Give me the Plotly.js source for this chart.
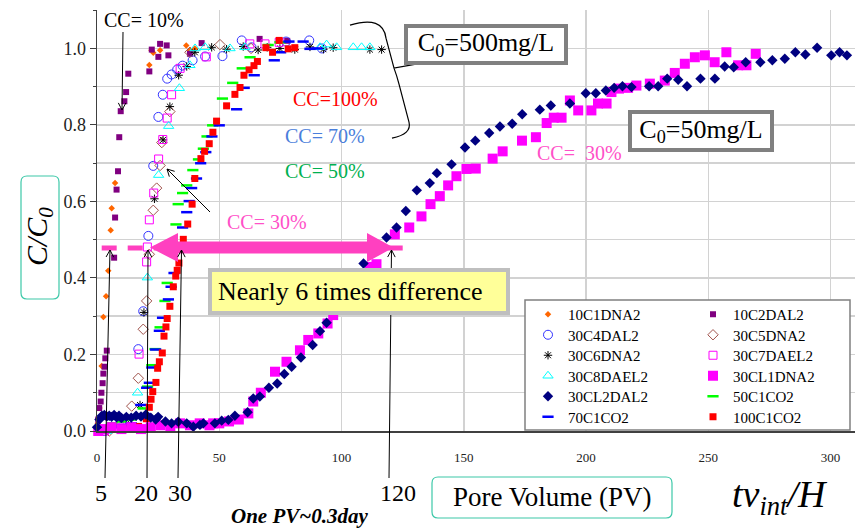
<!DOCTYPE html>
<html><head><meta charset="utf-8">
<script src="https://cdn.plot.ly/plotly-3.0.1.min.js"></script>
<style>html,body{margin:0;padding:0;background:#fff}#chart{width:856px;height:528px}</style>
</head><body><div id="chart"></div>
<script>
// ---------- data (Pore Volume, C/C0) ----------
const s10C1DNA2 = [[0.3,0.02],[1.0,0.06],[1.9,0.17],[2.6,0.298],[3.7,0.352],[4.6,0.419],[5.6,0.525],[6.0,0.582],[7.4,0.648],[21.4,0.957],[22.3,0.995],[23.0,0.989],[25.8,0.995],[36.5,1.008],[38.0,0.995],[40.0,1.0]];
const s10C2DAL2 = [[0.5,0.03],[0.9,0.06],[1.5,0.077],[1.8,0.10],[2.3,0.125],[2.6,0.15],[3.1,0.168],[3.4,0.19],[4.0,0.21],[7.0,0.453],[7.4,0.558],[8.0,0.631],[8.6,0.679],[9.1,0.768],[9.7,0.836],[11.2,0.862],[11.9,0.886],[12.8,0.934],[21.4,0.94],[22.4,0.997],[25.1,0.978],[25.8,1.012],[28.5,1.008],[29.2,0.982],[38.0,0.986],[42.8,1.014],[66.5,1.025],[77.8,1.02]];
const s30C4DAL2 = [[3,0.0],[10,0.01],[16.9,0.214],[18.9,0.313],[21.0,0.51],[23.0,0.693],[25.1,0.821],[26.9,0.879],[28.7,0.921],[30.5,0.932],[32.8,0.945],[35.0,0.955],[39.1,0.969],[44.2,0.979],[51.3,0.98],[59.2,1.021],[63.2,1.003],[77.3,1.018],[86.8,1.021],[92.0,1.0]];
const s30C5DNA2 = [[5,0.0],[10,0.02],[14.2,0.065],[16.9,0.138],[18.9,0.266],[20.3,0.34],[21.4,0.462],[23.0,0.577],[24.4,0.635],[25.8,0.694],[26.5,0.754],[29.8,0.835],[38,0.99],[50.3,1.01],[63,1.0]];
const s30C6DNA2 = [[5,0.01],[12,0.03],[17.6,0.068],[19.2,0.31],[23.5,0.607],[27.0,0.761],[29.8,0.848],[33.4,0.93],[36.7,0.953],[40,0.99],[46.9,1.003],[53.0,0.998],[59.8,1.005],[65.9,0.996],[69.6,1.003],[74.8,1.0],[80.9,0.997],[87.1,1.004],[92.6,0.998],[96.6,1.002],[111.6,0.997],[116.4,0.997]];
const s30C7DAEL2 = [[3,0.0],[10,0.01],[17.2,0.201],[20.3,0.442],[20.6,0.481],[21.4,0.552],[23.2,0.622],[25.2,0.711],[26.9,0.762],[28.7,0.818],[30.5,0.879],[34.0,0.948],[44.7,0.978],[62.5,1.012],[68.7,1.012],[74.5,1.016]];
const s30C8DAEL2 = [[4,0.0],[9,-0.002],[12,0.005],[16.6,0.10],[20.6,0.401],[25.2,0.669],[29.3,0.797],[33.7,0.896],[38,0.956],[40.1,1.0],[44.2,1.003],[54.4,1.0],[60.5,1.003],[91.2,1.003],[93.9,1.01],[98,1.003],[104.8,1.003],[108.2,1.003],[111.6,1.003]];
const s30CL1DNA2 = [[0.5,0],[3,0.005],[6,0.01],[10,0.005],[14,0.01],[18,0.005],[22,0.01],[26,0.015],[30,0.01],[34,0.02],[38,0.015],[42,0.02],[46,0.015],[47.5,0.02],[50,0.02],[54,0.025],[58,0.03],[61.9,0.046],[63.9,0.077],[67,0.1],[72.8,0.155],[77.5,0.181],[83,0.211],[86.4,0.238],[90.5,0.255],[94.3,0.281],[96.6,0.303],[111.6,0.429],[114.3,0.436],[121.8,0.514],[127.7,0.532],[132.7,0.561],[136.4,0.593],[140.2,0.614],[143.6,0.642],[147,0.666],[151.1,0.685],[154.9,0.686],[161.8,0.712],[165.9,0.731],[173.8,0.759],[179.5,0.768],[183.9,0.805],[186.8,0.819],[190,0.819],[193.4,0.864],[196.8,0.838],[202.2,0.838],[204.9,0.856],[208.4,0.856],[210.4,0.886],[213.5,0.895],[217.2,0.897],[220.6,0.903],[226.1,0.908],[232.2,0.916],[236.3,0.936],[240.4,0.96],[244.5,0.977],[248.6,0.982],[252.6,0.964],[257.4,0.99],[262.2,0.956],[265.6,0.956],[269.4,0.986]];
const s30CL2DAL2 = [[0,0.01],[1,0.03],[2,0.04],[3,0.042],[4,0.038],[5,0.04],[6,0.037],[7,0.042],[8,0.036],[9,0.04],[10,0.034],[12,0.037],[14,0.035],[16,0.04],[18,0.038],[20,0.043],[22,0.035],[24,0.03],[25,0.037],[28,0.025],[30.5,0.02],[33.2,0.024],[36.7,0.02],[39.4,0.011],[42.1,0.016],[43.5,0.02],[48.2,0.02],[51,0.027],[53.7,0.029],[56.4,0.04],[61.6,0.049],[63.9,0.085],[66.6,0.09],[70.3,0.113],[73.7,0.124],[76.6,0.149],[79.6,0.168],[83.4,0.192],[88.2,0.225],[91.2,0.261],[93.9,0.283],[109.0,0.438],[118.4,0.506],[122.5,0.532],[126.3,0.575],[130.8,0.629],[136.1,0.648],[139,0.674],[145,0.697],[150.5,0.741],[154.7,0.759],[160.4,0.779],[164.8,0.796],[169.8,0.803],[173.9,0.828],[181.1,0.84],[185.6,0.851],[193.4,0.856],[199.9,0.883],[204,0.883],[208.1,0.89],[211.5,0.897],[214.9,0.901],[218.6,0.899],[225.8,0.901],[229.5,0.901],[233.2,0.921],[237.7,0.918],[241.3,0.901],[246.8,0.921],[252.7,0.921],[256.7,0.953],[260.4,0.951],[265.3,0.964],[271.3,0.964],[276.2,0.969],[281.3,0.973],[285.6,0.99],[289.7,0.984],[294.5,1.002],[300.3,0.982],[303.7,0.99],[306.7,0.982]];
const s50C1CO2 = [[2,0.005],[6,0.02],[10,0.025],[14,0.03],[17,0.04],[18.9,0.059],[20.7,0.116],[22.4,0.172],[23.7,0.214],[25.8,0.271],[27.8,0.34],[28.7,0.387],[32.3,0.54],[33.2,0.593],[35,0.622],[36.7,0.642],[39.2,0.682],[41.5,0.71],[43.5,0.738],[45,0.77],[47.3,0.799],[51.3,0.869],[55.5,0.91],[59.4,0.948],[62.6,0.977],[70,1.009],[74.8,1.016]];
const s70C1CO2 = [[2,0.0],[6,0.01],[10,0.015],[14,0.02],[17.9,0.068],[20.3,0.113],[21.4,0.126],[22.4,0.166],[24,0.213],[25.5,0.262],[26.8,0.296],[29.2,0.344],[30.3,0.377],[31.5,0.413],[35,0.532],[36.7,0.572],[37.7,0.601],[38.7,0.635],[40.7,0.66],[42.4,0.7],[44.5,0.729],[47,0.77],[50,0.799],[57.1,0.841],[60.2,0.897],[64.3,0.93],[72.5,0.969],[75.1,0.99],[78.5,1.018],[84.3,1.018],[87.1,0.999],[90,1.0]];
const s100C1CO2 = [[0,-0.002],[2.6,0.004],[6,0.011],[10.1,0.005],[13.5,0.005],[17,0.012],[20.2,0.032],[21.4,0.062],[22.1,0.083],[22.8,0.103],[24.1,0.127],[24.8,0.164],[25.5,0.181],[26.7,0.204],[27.4,0.248],[28.2,0.272],[28.7,0.294],[29.8,0.326],[31.2,0.377],[32.2,0.405],[32.8,0.42],[33.5,0.439],[35.3,0.501],[37.1,0.541],[38.9,0.593],[40,0.66],[42.5,0.712],[44,0.731],[45.9,0.751],[47.4,0.781],[48.9,0.81],[53,0.85],[56.4,0.88],[58.5,0.898],[60.1,0.93],[62.2,0.944],[64.2,0.955],[65.6,0.966],[69.1,1.002],[71.8,0.99],[74.5,1.021],[78.2,0.999],[80.9,1.002]];

const xTickVals = [0,50,100,150,200,250,300];
const yTickVals = [0,0.2,0.4,0.6,0.8,1.0];
const yMinorVals = [0.1,0.3,0.5,0.7,0.9,1.1];
const markedPV = ['5','20','30','120'];

// ---------- geometry helpers (pixel -> coordinates) ----------
const W=856,H=528,L=97,R=1,T=10,B=97;
const PW=W-L-R, PH=H-T-B, XMAX=310, YMAX=1.1;
const px2x = px => (px-L)/PW*XMAX;
const py2y = py => (T+PH-py)/PH*YMAX;
const pX = px => (px-L)/PW;
const pY = py => (T+PH-py)/PH;
const SERIF = 'Liberation Serif, Times New Roman, serif';

// legend slots: [column text x (px), row centre y (px)]
const COLX = [528, 693];
const ROWY = [315, 335.5, 356, 376.5, 397, 417.5];
let legendCount = 0;
const legends = {};
function mk(name, pts, symbol, color, size, lw, col, row){
  legendCount++;
  const key = legendCount === 1 ? 'legend' : 'legend' + legendCount;
  legends[key] = {x:pX(COLX[col]), y:pY(ROWY[row]-17), xanchor:'left', yanchor:'top', bgcolor:'rgba(0,0,0,0)',
    borderwidth:0, font:{family:SERIF, size:15, color:'#000'}, itemwidth:30};
  return {type:'scatter', mode:'markers', name:name, x:pts.map(p=>p[0]), y:pts.map(p=>p[1]),
    marker:{symbol:symbol, color:color, size:size, line:{color:color, width:lw}},
    legend:key, cliponaxis:false, hoverinfo:'skip'};
}
const traces = [
  mk('10C1DNA2', s10C1DNA2, 'diamond', '#FF6600', 5, 0, 0, 0),
  mk('10C2DAL2', s10C2DAL2, 'square', '#800080', 6, 0, 1, 0),
  mk('30C4DAL2', s30C4DAL2, 'circle-open', '#3333FF', 9, 1, 0, 1),
  mk('30C5DNA2', s30C5DNA2, 'diamond-open', '#A0524B', 8, 1, 1, 1),
  mk('30C6DNA2', s30C6DNA2, 'asterisk-open', '#000000', 7, 1, 0, 2),
  mk('30C7DAEL2', s30C7DAEL2, 'square-open', '#FF00FF', 8, 1, 1, 2),
  mk('30C8DAEL2', s30C8DAEL2, 'triangle-up-open', '#00FFFF', 9, 1, 0, 3),
  mk('50C1CO2', s50C1CO2, 'line-ew-open', '#00FF00', 8, 2.5, 1, 4),
  mk('70C1CO2', s70C1CO2, 'line-ew-open', '#0000FF', 8, 2.5, 0, 5),
  mk('100C1CO2', s100C1CO2, 'square', '#FF0000', 7, 0, 1, 5),
  mk('30CL1DNA2', s30CL1DNA2, 'square', '#FF00FF', 10, 0, 1, 3),
  mk('30CL2DAL2', s30CL2DAL2, 'diamond', '#000080', 8, 0, 0, 4)
];

// ---------- shapes ----------
const D = (x,y) => px2x(x)+','+py2y(y);
const P = (x,y) => pX(x)+','+pY(y);
function rr(x0,y0,x1,y1,r){
  return `M${P(x0+r,y0)} L${P(x1-r,y0)} Q${P(x1,y0)} ${P(x1,y0+r)} L${P(x1,y1-r)} Q${P(x1,y1)} ${P(x1-r,y1)} L${P(x0+r,y1)} Q${P(x0,y1)} ${P(x0,y1-r)} L${P(x0,y0+r)} Q${P(x0,y0)} ${P(x0+r,y0)} Z`;
}
function arrowShape(hx,hy,tx,ty){
  const dx=tx-hx, dy=ty-hy, len=Math.hypot(dx,dy), ux=dx/len, uy=dy/len;
  const a=28*Math.PI/180, s=8;
  const w1=[hx+s*(ux*Math.cos(a)-uy*Math.sin(a)), hy+s*(ux*Math.sin(a)+uy*Math.cos(a))];
  const w2=[hx+s*(ux*Math.cos(-a)-uy*Math.sin(-a)), hy+s*(ux*Math.sin(-a)+uy*Math.cos(-a))];
  return {type:'path', xref:'paper', yref:'paper', layer:'above', line:{color:'#000', width:1},
      path:`M${P(tx,ty)} L${P(hx,hy)} M${P(w1[0],w1[1])} L${P(hx,hy)} L${P(w2[0],w2[1])}`};
}
const PINK = '#FF40C0';
const shapes = [
  {type:'rect', xref:'paper', yref:'paper', x0:pX(97), x1:pX(200), y0:pY(37), y1:pY(0), fillcolor:'#fff', line:{width:0}, layer:'above'},
  {type:'line', xref:'x', yref:'y', x0:px2x(101.7), x1:px2x(408), y0:py2y(248), y1:py2y(248), line:{color:PINK, width:5, dash:'15px,11px'}, layer:'above'},
  {type:'path', xref:'x', yref:'y', layer:'above', fillcolor:PINK, line:{width:0},
    path:`M${D(150,247.5)} L${D(178,233)} L${D(178,241.5)} L${D(367,241.5)} L${D(367,233)} L${D(393.5,247.5)} L${D(367,262)} L${D(367,253.5)} L${D(178,253.5)} L${D(178,262)} Z`},
  {type:'path', xref:'x', yref:'y', layer:'above', line:{color:'#000', width:1.2},
    path:`M${D(350,25)} Q${D(383,15)} ${D(386,38)} L${D(394,68)} L${D(416,64)} M${D(394,68)} Q${D(397,76)} ${D(399,84)} L${D(409,122)} Q${D(412,134)} ${D(392,138)}`},
  {type:'rect', xref:'paper', yref:'paper', x0:pX(525), x1:pX(850), y0:pY(430), y1:pY(300), fillcolor:'#fff', line:{color:'#808080', width:1.5}, layer:'above'},
  {type:'path', xref:'paper', yref:'paper', layer:'above', line:{color:'#3CC8A8', width:1.2}, path:rr(21,176,59,299,6)},
  {type:'path', xref:'paper', yref:'paper', layer:'above', line:{color:'#3CC8A8', width:1.2}, path:rr(432,477,672,518,6)},
  arrowShape(122, 110, 123, 32),
  arrowShape(167, 169, 210, 212),
  arrowShape(110, 250, 105, 478),
  arrowShape(148, 250, 147, 478),
  arrowShape(181.5, 250, 178, 478),
  arrowShape(391.5, 250, 389, 478)
];

// ---------- annotations ----------
function txt(text, cx, cy, size, color, extra){
  return Object.assign({xref:'paper', yref:'paper', x:pX(cx), y:pY(cy), xanchor:'center', yanchor:'middle',
    text:text, showarrow:false, font:{family:SERIF, size:size, color:color||'#000'}}, extra||{});
}
const annotations = [
  txt('CC= 10%', 144, 20, 20),
  txt('CC=100%', 335, 99, 20, '#FF0000'),
  txt('CC= 70%', 325, 136, 20, '#4A7EDB'),
  txt('CC= 50%', 325, 171, 20, '#00B050'),
  txt('CC= 30%', 267, 222, 20, '#FF50C8'),
  txt('CC=  30%', 579, 153, 20, '#FF50C8'),
  txt('C<sub>0</sub>=500mg/L', 486, 44, 26, '#000', {bgcolor:'#fff', bordercolor:'#808080', borderwidth:4, borderpad:1, width:154, height:31}),
  txt('C<sub>0</sub>=50mg/L', 701, 131, 26, '#000', {bgcolor:'#fff', bordercolor:'#808080', borderwidth:4, borderpad:1, width:136, height:32}),
  txt('Nearly 6 times difference', 359, 291.5, 26, '#000', {bgcolor:'#FFFF99', bordercolor:'#BFBFBF', borderwidth:4, borderpad:6, width:282, height:27, align:'left'}),
  txt('<i>C/C<sub>0</sub></i>', 39, 237, 30, '#000', {textangle:-90}),
  txt('Pore Volume (PV)', 552, 497, 27),
  txt('<i>tv<sub>int</sub>/H</i>', 780, 497, 38),
  txt('<b><i>One PV~0.3day</i></b>', 299, 516, 21),
  txt(markedPV[0], 101, 493, 24),
  txt(markedPV[1], 146, 493, 24),
  txt(markedPV[2], 180, 493, 24),
  txt(markedPV[3], 398, 493, 24)
];

const layout = Object.assign({
  width:W, height:H, margin:{l:L, r:R, t:T, b:B, pad:0},
  paper_bgcolor:'#fff', plot_bgcolor:'#fff', showlegend:true,
  font:{family:SERIF, size:15, color:'#000'},
  xaxis:{range:[0,XMAX], tickvals:xTickVals, showgrid:true, gridcolor:'#D2D2D2', gridwidth:1.5,
    showline:true, linecolor:'#404040', linewidth:1.5, ticks:'outside', ticklen:14, tickcolor:'rgba(0,0,0,0)',
    tickfont:{family:SERIF, size:13, color:'#222'}, zeroline:false, fixedrange:true},
  yaxis:{range:[0,YMAX+0.0005], tickvals:yTickVals, tickformat:'.1f', showgrid:true, gridcolor:'#D2D2D2', gridwidth:1.5,
    minor:{tickvals:yMinorVals, showgrid:true, gridcolor:'#D2D2D2', gridwidth:1.5, ticks:'outside', ticklen:3, tickcolor:'#404040'},
    showline:true, linecolor:'#404040', linewidth:1.5, ticks:'outside', ticklen:6, tickcolor:'#404040',
    tickfont:{family:SERIF, size:18, color:'#222'}, zeroline:false, fixedrange:true},
  shapes:shapes, annotations:annotations
}, legends);
Plotly.newPlot('chart', traces, layout, {displayModeBar:false, staticPlot:true});
</script></body></html>
